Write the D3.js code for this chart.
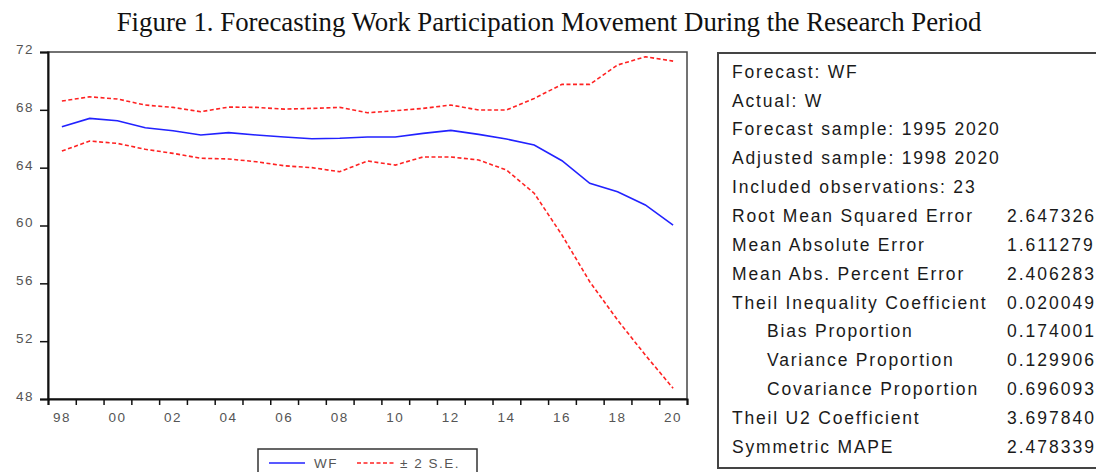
<!DOCTYPE html>
<html>
<head>
<meta charset="utf-8">
<script src="https://cdn.jsdelivr.net/npm/d3@7"></script>
<style>
  body { margin: 0; background: #fff; }
  svg { display: block; }
</style>
</head>
<body>
<div id="vis1"></div>
<script>
// frame constants
const FRAME_WIDTH = 1096;
const FRAME_HEIGHT = 472;
const PLOT = {left: 48, right: 687, top: 52, bottom: 399};

// data (annual, 1998-2020)
const years = [1998, 1999, 2000, 2001, 2002, 2003, 2004, 2005, 2006, 2007, 2008,
               2009, 2010, 2011, 2012, 2013, 2014, 2015, 2016, 2017, 2018, 2019, 2020];
const wf = [66.83, 67.41, 67.25, 66.76, 66.55, 66.26, 66.42, 66.26, 66.12, 66.0, 66.03,
            66.12, 66.12, 66.37, 66.58, 66.30, 65.98, 65.57, 64.48, 62.92, 62.34, 61.42, 60.03];
const upper = [68.61, 68.9, 68.75, 68.33, 68.17, 67.87, 68.19, 68.17, 68.05, 68.1, 68.17,
               67.8, 67.94, 68.1, 68.33, 67.99, 67.99, 68.79, 69.76, 69.76, 71.1, 71.67, 71.37];
const lower = [65.15, 65.84, 65.68, 65.27, 64.99, 64.65, 64.6, 64.41, 64.13, 64.0, 63.72,
               64.46, 64.18, 64.74, 64.74, 64.53, 63.84, 62.23, 59.34, 56.11, 53.46, 51.04, 48.74];

const yTicks = [48, 52, 56, 60, 64, 68, 72];
const xLabels = ["98", "00", "02", "04", "06", "08", "10", "12", "14", "16", "18", "20"];

const statLabels = ["Forecast: WF", "Actual: W", "Forecast sample: 1995 2020",
  "Adjusted sample: 1998 2020", "Included observations: 23",
  "Root Mean Squared Error", "Mean Absolute Error", "Mean Abs. Percent Error",
  "Theil Inequality Coefficient", "Bias Proportion", "Variance Proportion",
  "Covariance Proportion", "Theil U2 Coefficient", "Symmetric MAPE"];
const statValues = ["", "", "", "", "", "2.647326", "1.611279", "2.406283",
  "0.020049", "0.174001", "0.129906", "0.696093", "3.697840", "2.478339"];
const statIndent = [0, 0, 0, 0, 0, 0, 0, 0, 0, 1, 1, 1, 0, 0];

const SANS = "'Liberation Sans', Arial, sans-serif";

const FRAME = d3.select("#vis1")
  .append("svg")
    .attr("width", FRAME_WIDTH)
    .attr("height", FRAME_HEIGHT);

// title
const title = FRAME.append("text")
  .attr("x", 549)
  .attr("y", 31)
  .attr("text-anchor", "middle")
  .attr("font-family", "'Liberation Serif', 'Times New Roman', serif")
  .attr("font-size", 26)
  .attr("fill", "#111")
  .text("Figure 1. Forecasting Work Participation Movement During the Research Period");
// fit the title to the width it has in the reference
const tw = title.node().getComputedTextLength();
title.attr("font-size", 26 * 865 / tw);

// scales
const X_SCALE = d3.scaleLinear().domain([1998, 2021]).range([PLOT.left, PLOT.right]);
const Y_SCALE = d3.scaleLinear().domain([48, 72]).range([PLOT.bottom, PLOT.top]);

// plot frame
FRAME.append("rect")
  .attr("x", PLOT.left)
  .attr("y", PLOT.top)
  .attr("width", PLOT.right - PLOT.left)
  .attr("height", PLOT.bottom - PLOT.top)
  .attr("fill", "none")
  .attr("stroke", "#444")
  .attr("stroke-width", 1.5);

// y axis
const yAxis = FRAME.append("g")
  .attr("transform", "translate(" + PLOT.left + ",0)")
  .call(d3.axisLeft(Y_SCALE).tickValues(yTicks).tickSize(8).tickPadding(6));
yAxis.select(".domain").attr("stroke", "#111").attr("stroke-width", 2);
yAxis.selectAll(".tick line").attr("stroke", "#111").attr("stroke-width", 1.5);
yAxis.selectAll(".tick text")
  .attr("font-family", SANS)
  .attr("font-size", 13.5)
  .attr("letter-spacing", 1.5)
  .attr("fill", "#555")
  .attr("dy", "0.1em");

// x axis: a tick at each year boundary, labels every second year
const xAxis = FRAME.append("g")
  .attr("transform", "translate(0," + PLOT.bottom + ")")
  .call(d3.axisBottom(X_SCALE)
    .tickValues(years.concat([2021]))
    .tickSize(6)
    .tickFormat(""));
xAxis.select(".domain").attr("stroke", "#111").attr("stroke-width", 2);
xAxis.selectAll(".tick line").attr("stroke", "#111").attr("stroke-width", 1.5);

FRAME.append("g")
  .selectAll("text")
  .data(xLabels)
  .enter()
  .append("text")
    .attr("x", (d, i) => X_SCALE(years[i * 2] + 0.5))
    .attr("y", 421.5)
    .attr("text-anchor", "middle")
    .attr("font-family", SANS)
    .attr("font-size", 13.5)
    .attr("letter-spacing", 1.5)
    .attr("fill", "#555")
    .text((d) => d);

// lines, points sit in the middle of each year
const line = (vals) => d3.line()
  .x((d, i) => X_SCALE(years[i] + 0.5))
  .y((d) => Y_SCALE(d))(vals);

FRAME.append("path")
  .attr("d", line(upper))
  .attr("fill", "none")
  .attr("stroke", "#ff2222")
  .attr("stroke-width", 1.6)
  .attr("stroke-dasharray", "4,2.5");

FRAME.append("path")
  .attr("d", line(lower))
  .attr("fill", "none")
  .attr("stroke", "#ff2222")
  .attr("stroke-width", 1.6)
  .attr("stroke-dasharray", "4,2.5");

FRAME.append("path")
  .attr("d", line(wf))
  .attr("fill", "none")
  .attr("stroke", "#2222ff")
  .attr("stroke-width", 1.6);

// legend
const LEGEND = FRAME.append("g");
LEGEND.append("rect")
  .attr("x", 258).attr("y", 449)
  .attr("width", 219).attr("height", 40)
  .attr("fill", "#fff")
  .attr("stroke", "#333")
  .attr("stroke-width", 1.5);
LEGEND.append("line")
  .attr("x1", 269).attr("x2", 305).attr("y1", 463).attr("y2", 463)
  .attr("stroke", "#2222ff").attr("stroke-width", 1.6);
LEGEND.append("line")
  .attr("x1", 357).attr("x2", 394).attr("y1", 463).attr("y2", 463)
  .attr("stroke", "#ff2222").attr("stroke-width", 1.6)
  .attr("stroke-dasharray", "4,2.5");
LEGEND.selectAll("text")
  .data([["WF", 314], ["\u00b1 2 S.E.", 400]])
  .enter()
  .append("text")
    .attr("x", (d) => d[1])
    .attr("y", 468)
    .attr("font-family", SANS)
    .attr("font-size", 13.5)
    .attr("letter-spacing", 1.5)
    .attr("fill", "#555")
    .text((d) => d[0]);

// statistics box
const STATS = FRAME.append("g");
STATS.append("rect")
  .attr("x", 718).attr("y", 53)
  .attr("width", 420).attr("height", 415)
  .attr("fill", "none")
  .attr("stroke", "#444")
  .attr("stroke-width", 2);

STATS.selectAll("text.lab")
  .data(statLabels)
  .enter()
  .append("text")
    .attr("class", "lab")
    .attr("x", (d, i) => statIndent[i] ? 767 : 732)
    .attr("y", (d, i) => 77.7 + 28.85 * i)
    .attr("font-family", SANS)
    .attr("font-size", 17.5)
    .attr("letter-spacing", 1.8)
    .attr("fill", "#1a1a1a")
    .text((d) => d);

STATS.selectAll("text.val")
  .data(statValues)
  .enter()
  .append("text")
    .attr("class", "val")
    .attr("x", 1007)
    .attr("y", (d, i) => 77.7 + 28.85 * i)
    .attr("font-family", SANS)
    .attr("font-size", 17.5)
    .attr("letter-spacing", 2)
    .attr("fill", "#1a1a1a")
    .text((d) => d);
</script>
</body>
</html>
